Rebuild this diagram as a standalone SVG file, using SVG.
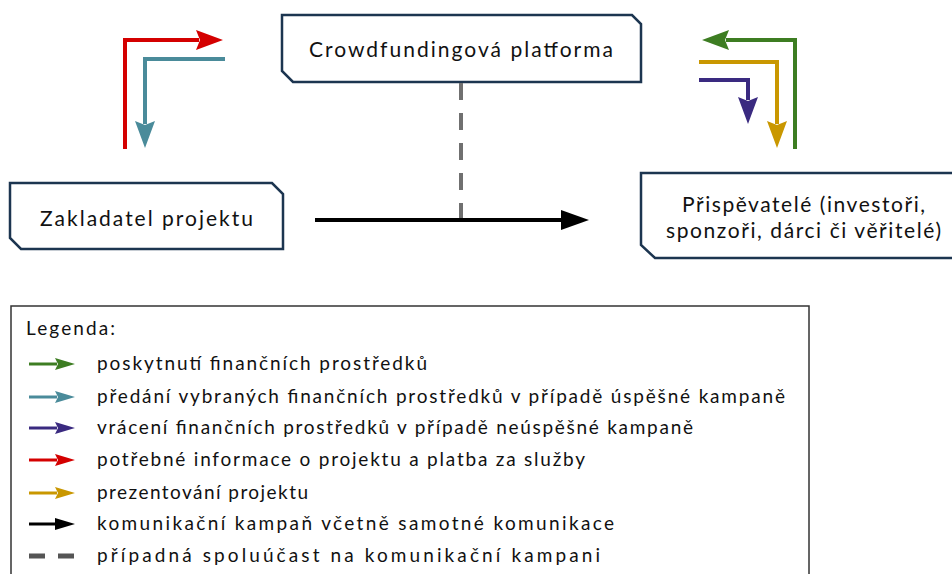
<svg xmlns="http://www.w3.org/2000/svg" width="952" height="574" viewBox="0 0 952 574">
<style>
.node{fill:#fff;stroke:#1c3550;stroke-width:2.5;stroke-linejoin:miter}
.nt{font-family:Lato,"Noto Sans","DejaVu Sans",sans-serif;font-size:21px;fill:#111}
.lt{font-family:Lato,"Noto Sans","DejaVu Sans",sans-serif;font-size:19px;fill:#111}
.c{fill:none;stroke-width:4;stroke-linejoin:miter;stroke-linecap:butt}
.l{fill:none;stroke-width:3}
</style>
<defs>
<marker id="hR" markerUnits="userSpaceOnUse" viewBox="0 -10 27 20" markerWidth="27" markerHeight="20" refX="3" refY="0" orient="auto"><path d="M0,-10 L27,0 L0,10 L4,0 z" fill="#d40000"/></marker>
<marker id="hT" markerUnits="userSpaceOnUse" viewBox="0 -10 27 20" markerWidth="27" markerHeight="20" refX="3" refY="0" orient="auto"><path d="M0,-10 L27,0 L0,10 L4,0 z" fill="#4a8b9a"/></marker>
<marker id="hG" markerUnits="userSpaceOnUse" viewBox="0 -10 27 20" markerWidth="27" markerHeight="20" refX="3" refY="0" orient="auto"><path d="M0,-10 L27,0 L0,10 L4,0 z" fill="#3d7d22"/></marker>
<marker id="hY" markerUnits="userSpaceOnUse" viewBox="0 -10 27 20" markerWidth="27" markerHeight="20" refX="3" refY="0" orient="auto"><path d="M0,-10 L27,0 L0,10 L4,0 z" fill="#c99700"/></marker>
<marker id="hP" markerUnits="userSpaceOnUse" viewBox="0 -10 27 20" markerWidth="27" markerHeight="20" refX="3" refY="0" orient="auto"><path d="M0,-10 L27,0 L0,10 L4,0 z" fill="#3a2a80"/></marker>
<marker id="hB" markerUnits="userSpaceOnUse" viewBox="0 -10 28 20" markerWidth="28" markerHeight="20" refX="2" refY="0" orient="auto"><path d="M0,-10 L28,0 L0,10 z" fill="#000"/></marker>
<marker id="lR" markerUnits="userSpaceOnUse" viewBox="0 -6 20 12" markerWidth="20" markerHeight="12" refX="2" refY="0" orient="auto"><path d="M0,-6 L20,0 L0,6 L3,0 z" fill="#d40000"/></marker>
<marker id="lT" markerUnits="userSpaceOnUse" viewBox="0 -6 20 12" markerWidth="20" markerHeight="12" refX="2" refY="0" orient="auto"><path d="M0,-6 L20,0 L0,6 L3,0 z" fill="#4a8b9a"/></marker>
<marker id="lG" markerUnits="userSpaceOnUse" viewBox="0 -6 20 12" markerWidth="20" markerHeight="12" refX="2" refY="0" orient="auto"><path d="M0,-6 L20,0 L0,6 L3,0 z" fill="#3d7d22"/></marker>
<marker id="lY" markerUnits="userSpaceOnUse" viewBox="0 -6 20 12" markerWidth="20" markerHeight="12" refX="2" refY="0" orient="auto"><path d="M0,-6 L20,0 L0,6 L3,0 z" fill="#c99700"/></marker>
<marker id="lP" markerUnits="userSpaceOnUse" viewBox="0 -6 20 12" markerWidth="20" markerHeight="12" refX="2" refY="0" orient="auto"><path d="M0,-6 L20,0 L0,6 L3,0 z" fill="#3a2a80"/></marker>
<marker id="lB" markerUnits="userSpaceOnUse" viewBox="0 -6 20 12" markerWidth="20" markerHeight="12" refX="2" refY="0" orient="auto"><path d="M0,-6 L20,0 L0,6 z" fill="#000"/></marker>
</defs>

<g id="platforma">
<path class="node" d="M282,15 H632 L641,24 V82 H293 L282,71 Z"/>
<text class="nt" x="309" y="57" textLength="304" lengthAdjust="spacing">Crowdfundingová platforma</text>
</g>
<g id="zakladatel">
<path class="node" d="M10,183 H272 L283,194 V249 H21 L10,238 Z"/>
<text class="nt" x="40" y="226" textLength="213" lengthAdjust="spacing">Zakladatel projektu</text>
</g>
<g id="prispevatele">
<path class="node" d="M641,173 H965 V258 H655 L641,245 Z"/>
<text class="nt" x="682" y="212" textLength="243" lengthAdjust="spacing">Přispěvatelé (investoři,</text>
<text class="nt" x="666" y="238" textLength="275" lengthAdjust="spacing">sponzoři, dárci či věřitelé)</text>
</g>

<g id="connectors">
<path class="c" stroke="#707070" stroke-dasharray="17,13" d="M461,83 V220"/>
<path class="c" stroke="#000" d="M315,220 H563" marker-end="url(#hB)"/>
<path class="c" stroke="#d40000" d="M125,149 V40 H199" marker-end="url(#hR)"/>
<path class="c" stroke="#4a8b9a" d="M225,59 H145 V124" marker-end="url(#hT)"/>
<path class="c" stroke="#3d7d22" d="M795,149 V40 H726" marker-end="url(#hG)"/>
<path class="c" stroke="#c99700" d="M699,62 H777 V124" marker-end="url(#hY)"/>
<path class="c" stroke="#3a2a80" d="M699,80 H748 V100" marker-end="url(#hP)"/>
</g>

<g id="legenda">
<rect x="11" y="306" width="798" height="280" fill="#fff" stroke="#333" stroke-width="1.5"/>
<text class="lt" x="26" y="335" textLength="89" lengthAdjust="spacing">Legenda:</text>
<path class="l" stroke="#3d7d22" d="M29,364 H57" marker-end="url(#lG)"/>
<text class="lt" x="97" y="370" textLength="330" lengthAdjust="spacing">poskytnutí finančních prostředků</text>
<path class="l" stroke="#4a8b9a" d="M29,397 H57" marker-end="url(#lT)"/>
<text class="lt" x="97" y="403" textLength="688" lengthAdjust="spacing">předání vybraných finančních prostředků v případě úspěšné kampaně</text>
<path class="l" stroke="#3a2a80" d="M29,428 H57" marker-end="url(#lP)"/>
<text class="lt" x="97" y="434" textLength="596" lengthAdjust="spacing">vrácení finančních prostředků v případě neúspěšné kampaně</text>
<path class="l" stroke="#d40000" d="M29,460 H57" marker-end="url(#lR)"/>
<text class="lt" x="97" y="466" textLength="488" lengthAdjust="spacing">potřebné informace o projektu a platba za služby</text>
<path class="l" stroke="#c99700" d="M29,493 H57" marker-end="url(#lY)"/>
<text class="lt" x="97" y="499" textLength="211" lengthAdjust="spacing">prezentování projektu</text>
<path class="l" stroke="#000" d="M29,524 H57" marker-end="url(#lB)"/>
<text class="lt" x="97" y="530" textLength="517" lengthAdjust="spacing">komunikační kampaň včetně samotné komunikace</text>
<path stroke="#555" stroke-width="5" fill="none" stroke-dasharray="16,13" d="M29,556 H74"/>
<text class="lt" x="97" y="562" textLength="503" lengthAdjust="spacing">případná spoluúčast na komunikační kampani</text>
</g>
</svg>
